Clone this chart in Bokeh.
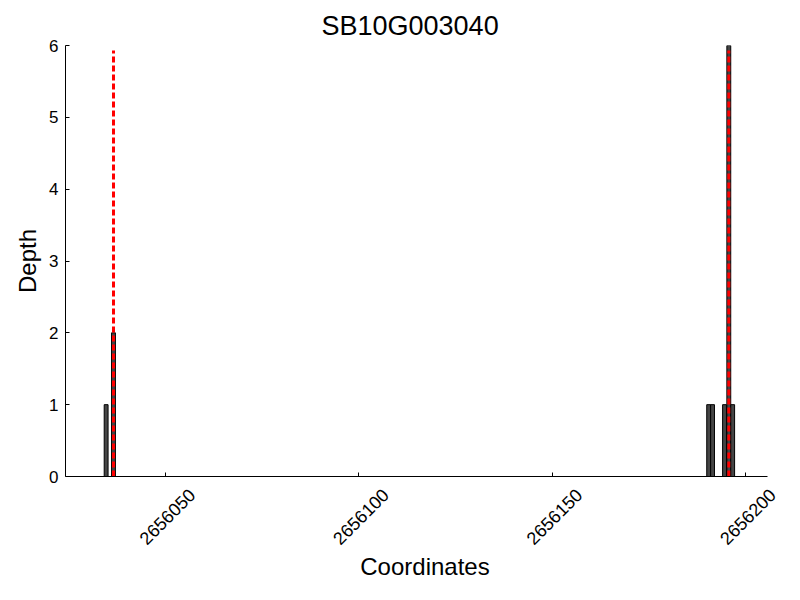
import math
from bokeh.plotting import figure
from bokeh.layouts import column
from bokeh.models import FixedTicker, Range1d, LinearAxis
from bokeh.core.properties import value
from bokeh.embed import file_html
from bokeh.resources import INLINE

# data
positions = [2656034.7, 2656036.6, 2656190.4, 2656191.4, 2656194.5, 2656195.6, 2656196.6]
depths = [1, 2, 1, 1, 1, 6, 1]
marker_positions = [2656036.6, 2656195.6]
marker_top = 5.93
x_ticks = [2656050, 2656100, 2656150, 2656200]
x_tick_labels = ["2656050", "2656100", "2656150", "2656200"]
y_ticks = [0, 1, 2, 3, 4, 5, 6]

FONT = "Liberation Sans"
X0, X1 = 2656024.2, 2656205.6      # extent of the drawn x axis
PX_PER_X = 702 / (X1 - X0)
EXTRA_RIGHT_PX = 17                 # room for the last rotated tick label
X_END = X1 + EXTRA_RIGHT_PX / PX_PER_X
FRAME_W = 702 + EXTRA_RIGHT_PX
BOTTOM_PAD = 7                      # room under the plot frame for the "0" label
LABEL_CENTRE_PX = 40                # rotated tick-label centre below the x axis

x_range = Range1d(X0, X_END)

# ---- main plot -------------------------------------------------------------
p = figure(width=65 + FRAME_W, height=476 + BOTTOM_PAD, output_backend="svg",
           toolbar_location=None, x_range=x_range, y_range=Range1d(0, 6),
           min_border_left=65, min_border_right=0, min_border_top=45,
           min_border_bottom=BOTTOM_PAD)
p.outline_line_color = None
p.grid.visible = False
p.background_fill_color = "white"
p.border_fill_color = "white"

p.vbar(x=positions, top=depths, bottom=0, width=1.0,
       fill_color="#454545", line_color="black", line_width=1)

for xm in marker_positions:
    p.segment(x0=[xm], y0=[0], x1=[xm], y1=[marker_top],
              line_color="red", line_width=3, line_dash="6 3")

p.title.text = "SB10G003040"
p.title.align = "left"
p.title.offset = 256
p.title.text_font = FONT
p.title.text_font_size = "27px"
p.title.text_font_style = "normal"
p.title.text_color = "black"

# x axis: inward tick marks only (labels are drawn rotated & centred below)
p.xaxis.bounds = (X0, X1)
p.xaxis.ticker = FixedTicker(ticks=[], minor_ticks=x_ticks)
p.xaxis.axis_line_color = "black"
p.xaxis.minor_tick_in = 4
p.xaxis.minor_tick_out = 0
p.xaxis.minor_tick_line_color = "black"
p.xaxis.major_tick_line_color = None

p.yaxis.ticker = FixedTicker(ticks=y_ticks)
p.yaxis.major_tick_in = 4
p.yaxis.major_tick_out = 0
p.yaxis.minor_tick_line_color = None
p.yaxis.axis_line_color = "black"
p.yaxis.major_tick_line_color = "black"
p.yaxis.major_label_text_font = FONT
p.yaxis.major_label_text_font_size = "17px"
p.yaxis.major_label_text_color = "black"
p.yaxis.major_label_standoff = 7
p.yaxis.axis_label = "Depth"
p.yaxis.axis_label_text_font = FONT
p.yaxis.axis_label_text_font_size = "24px"
p.yaxis.axis_label_text_font_style = "normal"
p.yaxis.axis_label_text_color = "black"

# ---- strip under the plot with rotated tick labels and the axis title ------
LABEL_H = 74 - BOTTOM_PAD
q = figure(frame_width=FRAME_W, frame_height=LABEL_H, output_backend="svg",
           toolbar_location=None, x_range=x_range, y_range=Range1d(-LABEL_H, 0),
           min_border_left=65, min_border_right=0, min_border_top=0, min_border_bottom=0)
q.outline_line_color = None
q.grid.visible = False
q.xaxis.visible = False
q.yaxis.visible = False
q.background_fill_color = "white"
q.border_fill_color = "white"

q.text(x=[t + 0.5 for t in x_ticks], y=[-(LABEL_CENTRE_PX - BOTTOM_PAD)] * len(x_ticks),
       text=x_tick_labels, angle=math.pi / 4, text_align="center",
       text_baseline="middle", text_font=value(FONT), text_font_size="18px",
       text_color="black")

title_axis = LinearAxis(ticker=FixedTicker(ticks=[]), axis_line_color=None,
                        major_tick_line_color=None, minor_tick_line_color=None,
                        axis_label="Coordinates", axis_label_standoff=2,
                        axis_label_text_font=FONT, axis_label_text_font_size="24px",
                        axis_label_text_font_style="normal",
                        axis_label_text_color="black")
q.add_layout(title_axis, "below")

layout = column(p, q, spacing=0)
open("out.html", "w").write(file_html(layout, INLINE))
